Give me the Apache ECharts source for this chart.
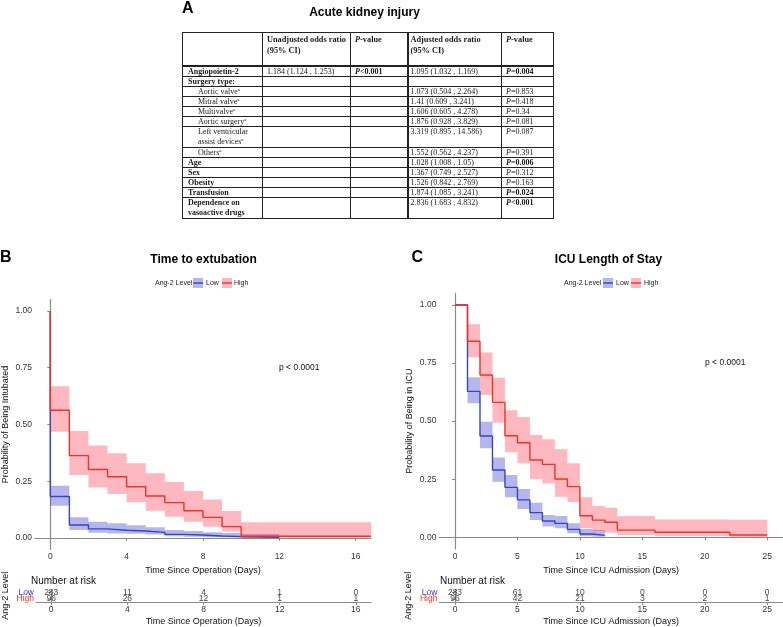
<!DOCTYPE html>
<html>
<head>
<meta charset="utf-8">
<script src="https://cdn.jsdelivr.net/npm/echarts@6/dist/echarts.min.js"></script>
<style>
  html, body { margin: 0; padding: 0; background: #fff; }
  #wrap { position: relative; width: 783px; height: 627px; overflow: hidden; }
  #chart { position: absolute; left: 0; top: 0; width: 783px; height: 627px; }
  #tblA { position: absolute; left: 182px; top: 32px; z-index: 5; }
  #tblA table { border-collapse: collapse; table-layout: fixed; width: 371px;
    font-family: 'Liberation Serif', 'Times New Roman', serif; font-size: 8px; color: #1a1a1a; }
  #tblA td { border: 1px solid #222; padding: 0 0 0 4px; height: 9px; line-height: 9px;
    vertical-align: middle; white-space: nowrap; overflow: hidden; }
  #tblA tr.hd td { height: 31px; line-height: 11px; vertical-align: top; padding-top: 1px; font-size: 8.3px;
    border-bottom: 2px solid #222; }
  #tblA tr.two td { height: 19px; line-height: 10px; vertical-align: top; }
  #tblA td.sep { border-left: 2px solid #222; padding-left: 2px; }
  #tblA td.lab { padding-left: 5px; font-weight: bold; }
  #tblA td.sub { padding-left: 15px; font-weight: normal; }
  #tblA sup { font-size: 5px; line-height: 0; vertical-align: 3px; }
</style>
</head>
<body>
<div id="wrap">
  <div id="chart"></div>
  <div id="tblA"></div>
</div>
<script>
// ---------------- Panel A table data ----------------
const tblLabels = ['Angiopoietin-2', 'Surgery type:', 'Aortic valve', 'Mitral valve', 'Multivalve', 'Aortic surgery',
  'Left ventricular<br>assist devices', 'Others', 'Age', 'Sex', 'Obesity', 'Transfusion', 'Dependence on<br>vasoactive drugs'];
const tblSubRows = [2, 3, 4, 5, 6, 7];
const tblUnadjOR = ['1.184 (1.124 , 1.253)', '', '', '', '', '', '', '', '', '', '', '', ''];
const tblUnadjP = ['<0.001', '', '', '', '', '', '', '', '', '', '', '', ''];
const tblAdjOR = ['1.095 (1.032 , 1.169)', '', '1.073 (0.504 , 2.264)', '1.41 (0.609 , 3.241)', '1.606 (0.605 , 4.278)',
  '1.876 (0.928 , 3.829)', '3.319 (0.895 , 14.586)', '1.552 (0.562 , 4.237)', '1.028 (1.008 , 1.05)',
  '1.367 (0.749 , 2.527)', '1.526 (0.842 , 2.769)', '1.874 (1.085 , 3.241)', '2.836 (1.683 , 4.832)'];
const tblAdjP = ['=0.004', '', '=0.853', '=0.418', '=0.34', '=0.081', '=0.087', '=0.391', '=0.006', '=0.312',
  '=0.163', '=0.024', '<0.001'];

// ---------------- Panel B: time to extubation ----------------
const extTimes = [0, 1, 2, 3, 4, 5, 6, 7, 8, 9, 10];
const extLowSurv  = [0.183, 0.057, 0.040, 0.034, 0.031, 0.025, 0.016, 0.013, 0.009, 0.006, 0.003];
const extLowLower = [0.142, 0.035, 0.023, 0.020, 0.019, 0.015, 0.008, 0.006, 0.003, 0.002, 0.000];
const extLowUpper = [0.230, 0.091, 0.072, 0.065, 0.056, 0.047, 0.035, 0.031, 0.025, 0.022, 0.018];
const extLowEnd = 12;
const extHighSurv  = [0.563, 0.363, 0.302, 0.270, 0.226, 0.185, 0.156, 0.120, 0.091, 0.050, 0.008];
const extHighLower = [0.468, 0.277, 0.222, 0.194, 0.157, 0.120, 0.094, 0.072, 0.050, 0.028, 0.001];
const extHighUpper = [0.669, 0.471, 0.407, 0.373, 0.329, 0.285, 0.247, 0.207, 0.170, 0.119, 0.069];
const extHighEnd = 16.8;
const extTicks = [0, 4, 8, 12, 16];
const extRiskLow = [283, 11, 4, 1, 0];
const extRiskHigh = [96, 26, 12, 1, 1];

// ---------------- Panel C: ICU length of stay ----------------
const icuLowTimes = [1, 2, 3, 4, 5, 6, 7, 8, 9, 10, 11];
const icuLowSurv  = [0.628, 0.436, 0.290, 0.215, 0.161, 0.106, 0.070, 0.060, 0.034, 0.014, 0.008];
const icuLowLower = [0.577, 0.383, 0.239, 0.172, 0.122, 0.074, 0.046, 0.039, 0.017, 0.005, 0.002];
const icuLowUpper = [0.689, 0.497, 0.344, 0.268, 0.208, 0.149, 0.096, 0.092, 0.060, 0.036, 0.031];
const icuLowEnd = 12;
const icuHighTimes = [1, 2, 3, 4, 5, 6, 7, 8, 9, 10, 11, 12, 13, 16, 22];
const icuHighSurv  = [0.844, 0.699, 0.581, 0.437, 0.407, 0.333, 0.314, 0.251, 0.218, 0.093, 0.074, 0.065, 0.031, 0.022, 0.010];
const icuHighLower = [0.775, 0.613, 0.493, 0.366, 0.319, 0.251, 0.232, 0.175, 0.152, 0.039, 0.027, 0.020, 0.010, 0.006, 0.001];
const icuHighUpper = [0.917, 0.796, 0.687, 0.547, 0.518, 0.440, 0.422, 0.379, 0.319, 0.172, 0.135, 0.127, 0.092, 0.077, 0.075];
const icuHighEnd = 25;
const icuTicks = [0, 5, 10, 15, 20, 25];
const icuRiskLow = [283, 61, 10, 0, 0, 0];
const icuRiskHigh = [96, 42, 21, 3, 2, 1];

const yTicks = [0, 0.25, 0.5, 0.75, 1];

// ---------------- Build table A ----------------
(function () {
  const fmtP = (s) => s ? '<i>P</i>' + s : '';
  const isSig = (s) => s && (s[0] === '<' || parseFloat(s.slice(1)) < 0.05);
  let h = '<table><colgroup><col style="width:80px"><col style="width:88px"><col style="width:57px">' +
    '<col style="width:94px"><col style="width:52px"></colgroup>';
  h += '<tr class="hd"><td></td><td><b>Unadjusted odds ratio<br>(95% CI)</b></td><td><b><i>P</i>-value</b></td>' +
    '<td class="sep"><b>Adjusted odds ratio<br>(95% CI)</b></td><td><b><i>P</i>-value</b></td></tr>';
  tblLabels.forEach((lab, i) => {
    const two = lab.indexOf('<br>') >= 0;
    const sub = tblSubRows.indexOf(i) >= 0;
    const labHtml = sub ? lab + '<sup>a</sup>' : lab;
    const up = fmtP(tblUnadjP[i]), ap = fmtP(tblAdjP[i]);
    h += '<tr' + (two ? ' class="two"' : '') + '>' +
      '<td class="lab' + (sub ? ' sub' : '') + '">' + labHtml + '</td>' +
      '<td>' + tblUnadjOR[i] + '</td>' +
      '<td>' + (isSig(tblUnadjP[i]) ? '<b>' + up + '</b>' : up) + '</td>' +
      '<td class="sep">' + tblAdjOR[i] + '</td>' +
      '<td>' + (isSig(tblAdjP[i]) ? '<b>' + ap + '</b>' : ap) + '</td></tr>';
  });
  h += '</table>';
  document.getElementById('tblA').innerHTML = h;
})();

// ---------------- Chart ----------------
const FONT = "'Liberation Sans', Arial, sans-serif";
const BLUE = '#3447BE';
const RED = '#EC3326';
const BLUE_BAND = 'rgba(40,40,200,0.34)';
const RED_BAND = 'rgba(255,40,60,0.33)';
const AXIS_C = '#8a8a8a';

function kmLine(xi, times, surv, end, color) {
  const data = [[0, 1]];
  times.forEach((t, i) => data.push([t, surv[i]]));
  data.push([end, surv[surv.length - 1]]);
  return {
    type: 'line', xAxisIndex: xi, yAxisIndex: xi, step: 'end', data: data,
    showSymbol: false, symbol: 'none', silent: true, z: 4,
    lineStyle: { color: color, width: 1.4 }, itemStyle: { color: color }, animation: false
  };
}
function kmBand(xi, times, lo, hi, end, color) {
  return {
    type: 'custom', xAxisIndex: xi, yAxisIndex: xi, silent: true, z: 2, animation: false,
    data: [[times[0], lo[0]]],
    renderItem: function (params, api) {
      const up = [], dn = [];
      for (let i = 0; i < times.length; i++) {
        const x0 = times[i], x1 = i + 1 < times.length ? times[i + 1] : end;
        up.push(api.coord([x0, hi[i]]), api.coord([x1, hi[i]]));
        dn.push(api.coord([x0, lo[i]]), api.coord([x1, lo[i]]));
      }
      return { type: 'polygon', shape: { points: up.concat(dn.reverse()) }, style: { fill: color } };
    }
  };
}
function riskSeries(xi, ticks, values, cat) {
  return {
    type: 'scatter', xAxisIndex: xi, yAxisIndex: xi, symbolSize: 0, silent: true, animation: false,
    data: ticks.map((t, i) => [t, cat, values[i]]),
    label: { show: true, position: 'inside', formatter: (p) => String(p.value[2]),
      fontSize: 8.5, color: '#111', fontFamily: FONT }
  };
}
function mainX(grid, min, max, ticks, name) {
  return {
    type: 'value', gridIndex: grid, min: min, max: max, name: name, nameLocation: 'middle', nameGap: 17,
    nameTextStyle: { fontSize: 9, color: '#111', fontFamily: FONT },
    axisLine: { show: true, lineStyle: { color: AXIS_C, width: 1.2 } },
    axisTick: { show: true, length: 3, customValues: ticks, lineStyle: { color: AXIS_C } },
    axisLabel: { customValues: ticks, fontSize: 8.5, color: '#333', margin: 3, fontFamily: FONT },
    splitLine: { show: false }
  };
}
function mainY(grid, name) {
  return {
    type: 'value', gridIndex: grid, min: -0.05, max: 1.05, name: name, nameLocation: 'middle', nameGap: 25,
    nameRotate: 90, nameTextStyle: { fontSize: 9, color: '#111', fontFamily: FONT },
    axisLine: { show: true, lineStyle: { color: AXIS_C, width: 1.2 } },
    axisTick: { show: true, length: 3, customValues: yTicks, lineStyle: { color: AXIS_C } },
    axisLabel: { customValues: yTicks, formatter: (v) => Number(v).toFixed(2), fontSize: 8.5, color: '#333',
      margin: 3, fontFamily: FONT },
    splitLine: { show: false }
  };
}
function riskX(grid, min, max, ticks, name) {
  const a = mainX(grid, min, max, ticks, name);
  a.nameGap = 15;
  a.axisLabel.margin = 3;
  return a;
}
function riskY(grid) {
  return {
    type: 'category', gridIndex: grid, data: ['High', 'Low'], name: 'Ang-2 Level', nameLocation: 'middle',
    nameGap: 26, nameRotate: 90, nameTextStyle: { fontSize: 9, color: '#111', fontFamily: FONT },
    axisLine: { show: true, lineStyle: { color: AXIS_C, width: 1.2 } },
    axisTick: { show: true, alignWithLabel: true, interval: 0, length: 3, lineStyle: { color: AXIS_C } },
    axisLabel: { fontSize: 8.5, margin: 2, interval: 0, hideOverlap: false, fontFamily: FONT,
      color: (v) => v === 'Low' ? BLUE : RED },
    splitLine: { show: false }
  };
}
function txt(x, y, text, font, align, color) {
  return { type: 'text', x: x, y: y, silent: true, z: 10,
    style: { text: text, font: font, fill: color || '#000', align: align || 'left', verticalAlign: 'middle',
      textAlign: align || 'left', textVerticalAlign: 'middle' } };
}
function legend(x0, sw1, t1, sw2, t2, y) {
  const f = '7px ' + FONT;
  return [
    txt(x0, y, 'Ang-2 Level', f, 'left', '#222'),
    { type: 'rect', shape: { x: sw1, y: y - 5, width: 10, height: 10 }, style: { fill: BLUE_BAND }, silent: true },
    { type: 'line', shape: { x1: sw1, y1: y, x2: sw1 + 10, y2: y }, style: { stroke: BLUE, lineWidth: 1.4 }, silent: true },
    txt(t1, y, 'Low', f, 'left', '#222'),
    { type: 'rect', shape: { x: sw2, y: y - 5, width: 10, height: 10 }, style: { fill: RED_BAND }, silent: true },
    { type: 'line', shape: { x1: sw2, y1: y, x2: sw2 + 10, y2: y }, style: { stroke: RED, lineWidth: 1.4 }, silent: true },
    txt(t2, y, 'High', f, 'left', '#222')
  ];
}

const option = {
  backgroundColor: '#fff',
  animation: false,
  grid: [
    { left: 31, top: 299.65, width: 340, height: 249.7 },
    { left: 439.4, top: 293.4, width: 343.4, height: 255.5 },
    { left: 31, top: 589.5, width: 340, height: 16 },
    { left: 439.4, top: 589.5, width: 343.4, height: 16 }
  ],
  xAxis: [
    mainX(0, -0.8, 16.8, extTicks, 'Time Since Operation (Days)'),
    mainX(1, -1.25, 26.25, icuTicks, 'Time Since ICU Admission (Days)'),
    riskX(2, -0.8, 16.8, extTicks, 'Time Since Operation (Days)'),
    riskX(3, -1.25, 26.25, icuTicks, 'Time Since ICU Admission (Days)')
  ],
  yAxis: [
    mainY(0, 'Probability of Being Intubated'),
    mainY(1, 'Probability of Being in ICU'),
    riskY(2),
    riskY(3)
  ],
  series: [
    kmBand(0, extTimes, extLowLower, extLowUpper, extLowEnd, BLUE_BAND),
    kmBand(0, extTimes, extHighLower, extHighUpper, extHighEnd, RED_BAND),
    kmLine(0, extTimes, extLowSurv, extLowEnd, BLUE),
    kmLine(0, extTimes, extHighSurv, extHighEnd, RED),
    kmBand(1, icuLowTimes, icuLowLower, icuLowUpper, icuLowEnd, BLUE_BAND),
    kmBand(1, icuHighTimes, icuHighLower, icuHighUpper, icuHighEnd, RED_BAND),
    kmLine(1, icuLowTimes, icuLowSurv, icuLowEnd, BLUE),
    kmLine(1, icuHighTimes, icuHighSurv, icuHighEnd, RED),
    riskSeries(2, extTicks, extRiskLow, 'Low'),
    riskSeries(2, extTicks, extRiskHigh, 'High'),
    riskSeries(3, icuTicks, icuRiskLow, 'Low'),
    riskSeries(3, icuTicks, icuRiskHigh, 'High')
  ],
  graphic: [
    txt(182, 9, 'A', 'bold 16px ' + FONT),
    txt(364.5, 13, 'Acute kidney injury', 'bold 12px ' + FONT, 'center'),
    txt(0, 257.5, 'B', 'bold 16px ' + FONT),
    txt(203.5, 260, 'Time to extubation', 'bold 12px ' + FONT, 'center'),
    txt(411.5, 257.5, 'C', 'bold 16px ' + FONT),
    txt(608.5, 260, 'ICU Length of Stay', 'bold 12px ' + FONT, 'center'),
    txt(279, 368, 'p < 0.0001', '8.5px ' + FONT, 'left', '#111'),
    txt(705, 363, 'p < 0.0001', '8.5px ' + FONT, 'left', '#111'),
    txt(31, 581, 'Number at risk', '10px ' + FONT, 'left', '#111'),
    txt(440, 581, 'Number at risk', '10px ' + FONT, 'left', '#111')
  ].concat(legend(155, 193, 206, 222, 234, 283)).concat(legend(564, 603, 616, 631, 644, 283))
};

const chart = echarts.init(document.getElementById('chart'), null, { renderer: 'canvas' });
chart.setOption(option);
</script>
</body>
</html>
